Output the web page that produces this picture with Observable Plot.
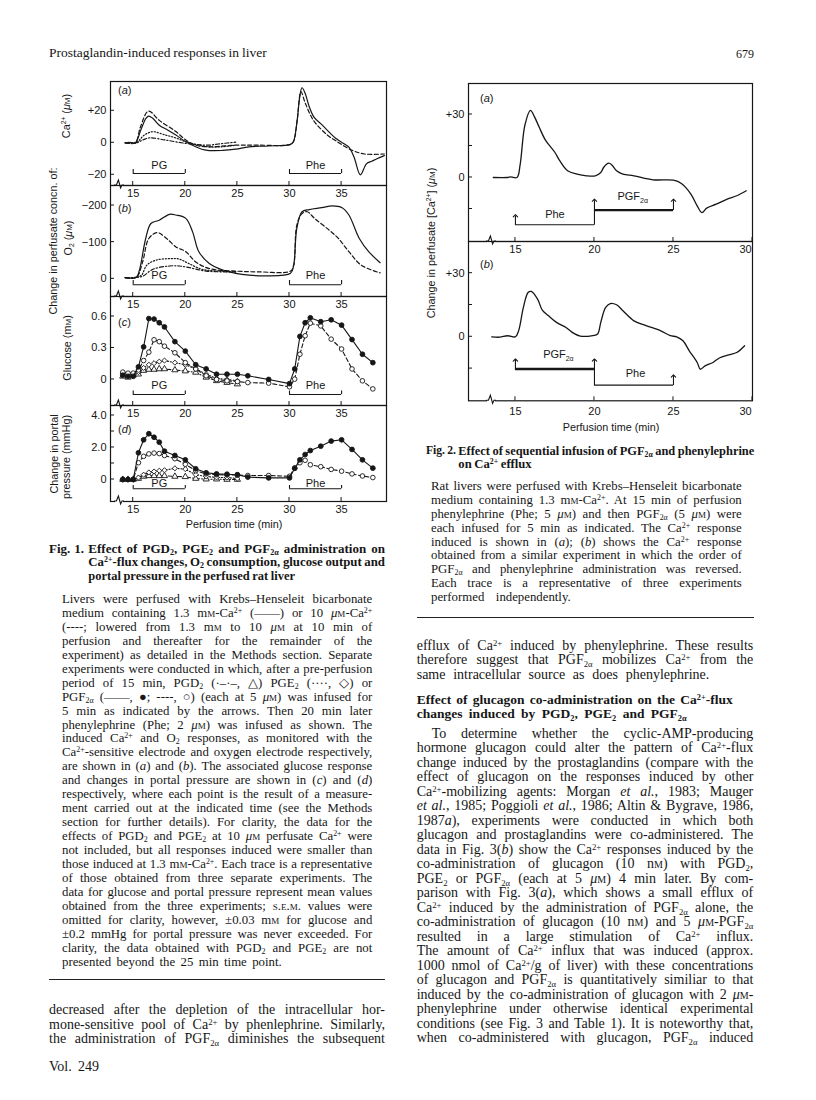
<!DOCTYPE html>
<html lang="en">
<head>
<meta charset="utf-8">
<title>Prostaglandin-induced responses in liver</title>
<script src="https://cdn.jsdelivr.net/npm/d3@7"></script>
<script src="https://cdn.jsdelivr.net/npm/@observablehq/plot@0.6"></script>
<style>
  html, body { margin: 0; padding: 0; background: #fff; }
  body { position: relative; width: 816px; height: 1100px; overflow: hidden; color: #161616;
         font-family: "Liberation Serif", "Times New Roman", Times, serif; }
  .ln { position: absolute; white-space: nowrap; }
  .b { font-weight: bold; }
  .sc { font-variant: small-caps; }
  sup, sub { font-size: 0.62em; line-height: 0; }
  sup { vertical-align: 0.48em; }
  sub { vertical-align: -0.3em; }
  .lab { position: absolute; white-space: nowrap; font-family: "Liberation Sans", Arial, Helvetica, sans-serif;
         font-size: 10.8px; line-height: 13px; }
  .rot { transform: translate(-50%, -50%) rotate(-90deg); }
  .ctr { transform: translate(-50%, -50%); }
  .rule { position: absolute; height: 0; border-top: 1.3px solid #222; }
</style>
</head>
<body>
<script>
// ------------------------------------------------------------------ data
const INK = "#161616";
const SANS = '"Liberation Sans", Arial, Helvetica, sans-serif';

// Fig. 1 — x ticks and infusion windows (min)
const fig1Ticks = [15, 20, 25, 30, 35];
const pgWindow = [15, 20];
const pheWindow = [30, 35];

// Fig. 1(a) Ca2+ traces [time (min), change in Ca2+ (µM)]
const caPGF = [[14.23,0],[14.6,0.3],[15.19,0],[15.73,8],[16.2,15],[16.47,16.7],[16.85,15.5],[17.5,11],[18.3,8],[19.1,4.8],[20.05,0.6],[21.0,-2.5],[21.96,-4.6],[23.56,-4.8],[24.84,-4],[26.1,-2.5],[28.0,-2],[30.1,-1],[30.37,0.6],[30.7,12],[30.97,28],[31.2,34.4],[31.5,31],[31.87,23],[32.35,16],[33.15,11],[34.4,3],[35.2,-0.5],[35.7,-2.7],[36.2,-9],[36.8,-20],[37.4,-13],[37.9,-11.5],[38.4,-10],[39.1,-8]];
const caPGF10 = [[14.23,0],[15.19,0],[15.7,10],[16.47,19.8],[17.5,14],[19.1,7],[20.05,1.7],[21,-1.5],[22.2,-2.5],[24.84,-1.5],[27,-1.5],[30.1,-1],[30.4,1],[30.75,15],[31.1,32],[31.5,25],[32.3,14],[33.6,5],[34.5,1],[35.9,-4.4],[37.2,-7],[39.1,-7]];
const caPGE = [[14.23,0],[15.3,0],[16,4.5],[16.85,6.9],[18.1,4.8],[19.1,3],[20.05,0.6],[21,-1],[22.2,-2.5],[23.5,-2.5],[24.84,-1.5]];
const caPGD = [[14.23,0],[15.3,0],[16,2],[16.6,3.1],[18.1,1.7],[20.05,-0.4],[21,-1],[22.2,-1.5],[23.5,-0.5],[24.84,0.4]];

// Fig. 1(b) O2 traces [time (min), change in O2 (µM)]
const o2PGF = [[14.23,-3],[15.3,-4],[15.6,-24],[16.2,-110],[16.7,-151],[17.5,-160],[18.5,-176],[19.1,-174],[20.05,-165],[20.7,-128],[21.3,-74],[22.3,-42],[23.6,-24],[24.84,-15],[26.1,-10],[27.7,-8],[30.1,-15],[30.4,-37],[30.7,-137],[31.2,-183],[31.9,-189],[33.1,-194],[34.1,-199],[35.05,-194],[35.7,-174],[36.7,-110],[37.6,-74],[38.7,-44]];
const o2PGF10 = [[14.23,-3],[15.3,-4],[15.9,-46],[16.5,-110],[17.3,-126],[18.2,-110],[19.1,-87],[20.05,-74],[21,-46],[22.3,-28],[24.84,-21],[27,-19],[30.1,-21],[30.4,-37],[30.7,-146],[31.2,-178],[31.7,-183],[32.4,-165],[33.8,-133],[34.7,-110],[35.7,-74],[36.9,-37],[38.7,-16]];
const o2PGE = [[14.23,-3],[15.3,-4],[15.8,-10],[16.3,-37],[17.2,-51],[18.5,-55],[19.4,-54],[20.3,-42],[21.6,-26],[23.2,-21],[24.84,-19]];
const o2PGD = [[14.23,-3],[15.3,-4],[15.9,-7],[16.9,-26],[18.5,-35],[19.4,-35],[20.3,-31],[22,-21],[24.84,-19]];

// Fig. 1(c,d) sampling times (min)
const sampleTimes = [14,14.5,15,15.5,16,16.5,17,17.5,18,19,20,21,22,23,24,25,26,28,30,30.5,31,31.5,32,33,34,35,36,37,38];
const pgTimes = [14,14.5,15,15.5,16,16.5,17,17.5,18,19,20,21,22,23,24,25];

// Fig. 1(c) glucose (mM)
const gluPGF = [0.04,0.03,0.03,0.12,0.31,0.58,0.575,0.54,0.5,0.36,0.27,0.14,0.1,0.05,0.05,0.05,0.035,0,-0.04,0.1,0.41,0.54,0.587,0.55,0.568,0.517,0.38,0.24,0.16];
const gluPGF10 = [0.07,0.06,0.06,0.09,0.18,0.26,0.378,0.36,0.317,0.254,0.16,0.1,0.035,0,-0.013,-0.02,-0.03,-0.035,-0.07,0.003,0.24,0.416,0.536,0.51,0.384,0.29,0.1,-0.013,-0.09];
const gluPGE = [0.06,0.05,0.05,0.07,0.11,0.14,0.155,0.17,0.18,0.16,0.14,0.1,0.05,0.01,0,-0.013];
const gluPGD = [0.03,0.02,0.04,0.05,0.085,0.095,0.095,0.1,0.1,0.09,0.08,0.067,0.02,-0.013,-0.03,-0.044];

// Fig. 1(d) portal pressure (mmHg)
const ppPGF = [0,0,0,1.67,2.48,2.86,2.64,2.33,1.77,1.5,1.23,0.67,0.42,0.35,0.33,0.3,0.15,0.1,0.1,0.7,1.23,1.56,1.81,2.08,2.4,2.48,1.88,1.23,0.71];
const ppPGF10 = [0,0,0,1.05,1.45,1.6,1.65,1.62,1.5,1.3,0.95,0.55,0.35,0.3,0.28,0.28,0.25,0.25,0.2,0.72,1.05,1.2,0.92,0.8,0.63,0.52,0.35,0.22,0.12];
const ppPGE = [0,0,0,0.12,0.3,0.44,0.5,0.55,0.58,0.7,0.65,0.3,0.19,0.13,0.12,0.06];
const ppPGD = [0,0,0,0.06,0.19,0.23,0.23,0.23,0.23,0.19,0.17,0.06,0.02,0.02,0,0];

// Fig. 2 — ticks, windows and Ca2+ traces [time (min), µM]
const fig2Ticks = [15, 20, 25, 30];
const firstWindow = [15, 20];
const secondWindow = [20, 25];
const fig2a = [[13.6,0],[14.5,0],[14.7,0.3],[15.1,0],[15.3,6.3],[15.6,25],[15.95,32],[16.2,29],[16.5,24],[16.9,17.8],[17.5,11.9],[17.8,8],[18.3,3.2],[18.9,1.6],[19.5,0.8],[20.05,0.8],[20.4,2.4],[20.6,5],[20.9,6.8],[21.1,6],[21.4,3.2],[21.8,1.6],[22.5,0.8],[23.7,-1.1],[25,-1.3],[25.5,-2.9],[26.1,-7.9],[26.5,-13.5],[26.8,-16.7],[27.1,-14.6],[27.7,-12.7],[28.4,-10.3],[29,-8.7],[29.6,-6.3]];
const fig2b = [[13.5,0],[14.0,-0.2],[14.5,0.5],[15,0],[15.2,2.8],[15.5,13.8],[15.8,20.9],[16,21.4],[16.4,17.8],[16.7,12.6],[17.1,9.9],[17.6,6.8],[18.2,4.4],[18.7,1.6],[19.1,0.3],[19.9,0.6],[20.2,1.3],[20.4,6.8],[20.7,13.8],[21,15.7],[21.4,15.1],[21.8,12.3],[22.5,7.5],[23.3,5.2],[24.2,2.8],[24.8,0.5],[25.2,0],[25.6,-1.9],[26,-6.6],[26.5,-12.1],[26.7,-15.3],[27,-13.7],[27.5,-12.1],[27.9,-10],[28.5,-8.5],[29,-7.4],[29.5,-4.2]];

// ------------------------------------------------------------------ helpers
const signed = d => d > 0 ? "+" + d : d < 0 ? "\u2212" + (-d) : "0";
const oneDec = d => d === 0 ? "0" : d.toFixed(1);

const solid = {stroke: INK, strokeWidth: 1.2, fill: "none"};
const dashed = {...solid, strokeDasharray: "4,2.5"};
const dotted = {...solid, strokeDasharray: "1.2,1.8"};
const dashDot = {...solid, strokeDasharray: "4,2,1.2,2"};

const trace = (data, style) => Plot.line(data, {x: d => d[0], y: d => d[1], curve: "catmull-rom", ...style});
const series = (times, vals) => times.map((t, i) => ({t, v: vals[i]}));
function pointSeries(times, vals, lineStyle, dotStyle) {
  const data = series(times, vals);
  return [
    Plot.line(data, {x: "t", y: "v", ...lineStyle, strokeWidth: 1.1}),
    Plot.dot(data, {x: "t", y: "v", stroke: INK, strokeWidth: 0.9, ...dotStyle})
  ];
}

function tickMarks(yVals, xVals, len = 4) {
  return (index, scales, values, dims) => {
    const g = d3.create("svg:g").attr("stroke", INK).attr("stroke-width", 1);
    const xl = dims.marginLeft, yb = dims.height - dims.marginBottom;
    for (const v of yVals) {
      const y = scales.y(v);
      g.append("line").attr("x1", xl).attr("x2", xl + len).attr("y1", y).attr("y2", y);
    }
    for (const v of xVals) {
      const x = scales.x(v);
      g.append("line").attr("x1", x).attr("x2", x).attr("y1", yb).attr("y2", yb - len);
    }
    return g.node();
  };
}

function axisBreak(offset) {
  return (index, scales, values, dims) => {
    const x = dims.marginLeft + offset, y = dims.height - dims.marginBottom;
    const g = d3.create("svg:g");
    g.append("rect").attr("x", x - 4).attr("y", y - 2).attr("width", 8).attr("height", 4).attr("fill", "white");
    g.append("path")
      .attr("d", `M${x - 5},${y} H${x - 2.6} L${x - 0.6},${y - 5} L${x + 1.6},${y + 3} L${x + 3},${y} H${x + 5}`)
      .attr("fill", "none").attr("stroke", INK).attr("stroke-width", 1.1);
    return g.node();
  };
}

function tag(letter, dx, dy) {
  return (index, scales, values, dims) => {
    const t = d3.create("svg:text").attr("x", dims.marginLeft + dx).attr("y", dims.marginTop + dy)
      .attr("dy", "0.35em").attr("text-anchor", "start").attr("fill", INK).attr("font-size", 11);
    t.append("tspan").text("(");
    t.append("tspan").attr("font-style", "italic").text(letter);
    t.append("tspan").text(")");
    return t.node();
  };
}

function subLabel(main, sub, t, v) {
  return (index, scales) => {
    const el = d3.create("svg:text").attr("x", scales.x(t)).attr("y", scales.y(v))
      .attr("dy", "0.35em").attr("text-anchor", "middle").attr("fill", INK).attr("font-size", 11);
    el.append("tspan").text(main);
    el.append("tspan").attr("font-size", 7).attr("dy", "0.4em").text(sub);
    return el.node();
  };
}

// bracket for Fig. 1: [line level, tick top, label level]
function bracket1([x1, x2], [yLine, yTick, yText], label) {
  return [
    Plot.ruleY([yLine], {x1: () => x1, x2: () => x2, stroke: INK, strokeWidth: 1.1}),
    Plot.ruleX([x1, x2], {y1: () => yLine, y2: () => yTick, stroke: INK, strokeWidth: 1.1}),
    Plot.text([label], {x: () => (x1 + x2) / 2, y: () => yText, text: d => d, fill: INK, fontSize: 11})
  ];
}

function panel(cfg) {
  const mTop = 2, mBottom = 24;
  const ticks = cfg.xTicks;
  const inner = cfg.lastDx ? ticks.slice(0, -1) : ticks;
  const axes = [Plot.axisX({ticks: inner, tickSize: 0, tickPadding: cfg.xPad, tickFormat: d => String(d), label: null})];
  if (cfg.lastDx) axes.push(Plot.axisX({ticks: ticks.slice(-1), tickSize: 0, tickPadding: cfg.xPad, dx: cfg.lastDx, tickFormat: d => String(d), label: null}));
  const svg = Plot.plot({
    width: cfg.width,
    height: cfg.bottom - cfg.top + mTop + mBottom,
    marginLeft: cfg.mLeft, marginRight: cfg.mRight, marginTop: mTop, marginBottom: mBottom,
    x: {domain: cfg.xDomain},
    y: {domain: cfg.yDomain},
    style: {background: "transparent", overflow: "visible", fontFamily: SANS, fontSize: "11px", color: INK},
    marks: [
      ...cfg.marks,
      Plot.frame({stroke: INK, strokeWidth: 1.2}),
      tickMarks(cfg.yTickMarks, cfg.xTicks),
      axisBreak(cfg.breakAt),
      ...axes,
      Plot.axisY({ticks: cfg.yTicks, tickSize: 0, tickPadding: 4, tickFormat: cfg.yFmt, label: null})
    ]
  });
  Object.assign(svg.style, {position: "absolute", left: cfg.left + "px", top: (cfg.top - mTop) + "px"});
  document.body.appendChild(svg);
}

// ------------------------------------------------------------------ Fig. 1
const F1 = {left: 70, width: 330, mLeft: 40, mRight: 14, xDomain: [12.82, 39.31], xTicks: fig1Ticks, breakAt: 9, xPad: 4};

panel({...F1, top: 81, bottom: 185, yDomain: [-26.7, 38.3], yTicks: [20, 0, -20], yTickMarks: [20, 0, -20], yFmt: signed,
  marks: [
    trace(caPGD, dashDot), trace(caPGE, dotted), trace(caPGF10, dashed), trace(caPGF, solid),
    ...bracket1(pgWindow, [-19.2, -16.7, -14.2], "PG"),
    ...bracket1(pheWindow, [-19.2, -16.7, -14.2], "Phe"),
    tag("a", 8, 9)
  ]});

panel({...F1, top: 185, bottom: 296, yDomain: [48.3, -254.6], yTicks: [-200, -100, 0], yTickMarks: [-200, -100, 0], yFmt: signed,
  marks: [
    trace(o2PGD, dashDot), trace(o2PGE, dotted), trace(o2PGF10, dashed), trace(o2PGF, solid),
    ...bracket1(pgWindow, [16.4, 4.6, -9], "PG"),
    ...bracket1(pheWindow, [16.4, 4.6, -9], "Phe"),
    tag("b", 8, 23)
  ]});

panel({...F1, top: 296, bottom: 405, yDomain: [-0.248, 0.79], yTicks: [0.6, 0.3, 0], yTickMarks: [0.6, 0.3, 0], yFmt: oneDec,
  marks: [
    ...pointSeries(pgTimes, gluPGD, dashDot, {symbol: "triangle", r: 2.3, fill: "white"}),
    ...pointSeries(pgTimes, gluPGE, dotted, {symbol: "diamond2", r: 2.3, fill: "white"}),
    ...pointSeries(sampleTimes, gluPGF10, dashed, {symbol: "circle", r: 2.3, fill: "white"}),
    ...pointSeries(sampleTimes, gluPGF, solid, {symbol: "circle", r: 2.4, fill: INK}),
    ...bracket1(pgWindow, [-0.143, -0.11, -0.062], "PG"),
    ...bracket1(pheWindow, [-0.143, -0.11, -0.062], "Phe"),
    tag("c", 8, 26)
  ]});

panel({...F1, top: 405, bottom: 501, yDomain: [-1.375, 4.625], yTicks: [4, 2, 0], yTickMarks: [4, 3, 2, 1, 0], yFmt: oneDec,
  marks: [
    ...pointSeries(pgTimes, ppPGD, dashDot, {symbol: "triangle", r: 2.3, fill: "white"}),
    ...pointSeries(pgTimes, ppPGE, dotted, {symbol: "diamond2", r: 2.3, fill: "white"}),
    ...pointSeries(sampleTimes, ppPGF10, dashed, {symbol: "circle", r: 2.3, fill: "white"}),
    ...pointSeries(sampleTimes, ppPGF, solid, {symbol: "circle", r: 2.4, fill: INK}),
    ...bracket1(pgWindow, [-0.58, -0.375, -0.27], "PG"),
    ...bracket1(pheWindow, [-0.58, -0.375, -0.27], "Phe"),
    tag("d", 8, 24)
  ]});

// ------------------------------------------------------------------ Fig. 2
const F2 = {left: 420, width: 346, mLeft: 48, mRight: 14, xDomain: [12.03, 30], xTicks: fig2Ticks, breakAt: 23, lastDx: -7};

function bracket2([x1, x2], yLine, thick) {
  return Plot.ruleY([yLine], {x1: () => x1, x2: () => x2, stroke: INK, strokeWidth: thick ? 2.3 : 1.1});
}
function arrows2(ticks) {
  return Plot.link(ticks, {x1: d => d.t, x2: d => d.t, y1: d => d.from, y2: d => d.to,
    stroke: INK, strokeWidth: 1.1, markerEnd: "arrow"});
}

panel({...F2, top: 82.7, bottom: 240.7, yDomain: [-30.48, 44.76], yTicks: [30, 0], yTickMarks: [30, 15, 0, -15], yFmt: signed, xPad: 3.6,
  marks: [
    trace(fig2a, {...solid, strokeWidth: 1.3}),
    bracket2(firstWindow, -22.5, false),
    bracket2(secondWindow, -15.5, true),
    arrows2([{t: firstWindow[0], from: -22.5, to: -18.2}, {t: firstWindow[1], from: -22.5, to: -10.8}, {t: secondWindow[1], from: -15.5, to: -10.8}]),
    Plot.text(["Phe"], {x: () => 17.5, y: () => -17.6, text: d => d, fill: INK, fontSize: 11}),
    subLabel("PGF", "2\u03b1", 22.45, -9.3),
    tag("a", 12, 15.6)
  ]});

panel({...F2, top: 240.7, bottom: 400, yDomain: [-30.19, 44.95], yTicks: [30, 0], yTickMarks: [30, 15, 0, -15], yFmt: signed, xPad: 6,
  marks: [
    trace(fig2b, {...solid, strokeWidth: 1.3}),
    bracket2(firstWindow, -15.2, true),
    bracket2(secondWindow, -22.8, false),
    arrows2([{t: firstWindow[0], from: -15.2, to: -11}, {t: firstWindow[1], from: -22.8, to: -11}, {t: secondWindow[1], from: -22.8, to: -18.5}]),
    subLabel("PGF", "2\u03b1", 17.75, -8.6),
    Plot.text(["Phe"], {x: () => 22.6, y: () => -17.3, text: d => d, fill: INK, fontSize: 11}),
    tag("b", 12, 23.6)
  ]});

// ------------------------------------------------------------------ text
const CA = 'Ca<sup>2+</sup>';
const MM = 'm<span class="sc">m</span>';
const UM = '<i>\u03bc</i><span class="sc">m</span>';
const NM = 'n<span class="sc">m</span>';
const PGD = 'PGD<sub>2</sub>', PGE = 'PGE<sub>2</sub>', PGF = 'PGF<sub>2\u03b1</sub>', O2 = 'O<sub>2</sub>';

function setSize(item, size) {
  const {el, base} = item;
  const L = Math.round(size * 1.25);
  el.style.fontSize = size + "px";
  el.style.lineHeight = L + "px";
  el.style.top = (base - ((L - 1.107 * size) / 2 + 0.891 * size)) + "px";
}

// stretch a line to its measured width with word spacing; an overlong line gets a smaller font first
function fitLine(item) {
  const {el, w: target} = item;
  el.style.wordSpacing = "0px"; el.style.letterSpacing = "0px";
  setSize(item, item.size);
  const spaces = (el.textContent.match(/ /g) || []).length;
  let nat = el.getBoundingClientRect().width;
  const tight = target + spaces * 0.6;
  if (nat > tight) {
    const s = item.size * tight / nat;
    setSize(item, s);
    nat = el.getBoundingClientRect().width;
  }
  let diff = target - nat;
  if (spaces > 0) {
    const ws = Math.max(-0.8, Math.min(14, diff / spaces));
    el.style.wordSpacing = ws + "px";
    diff -= ws * spaces;
  }
  if (Math.abs(diff) > 0.5) el.style.letterSpacing = (diff / el.textContent.length) + "px";
}

const placed = [];
function place(html, x, base, size, w, bold) {
  const el = document.createElement("div");
  el.className = "ln" + (bold ? " b" : "");
  el.innerHTML = html;
  el.style.left = x + "px";
  document.body.appendChild(el);
  const item = {el, base, size, w};
  setSize(item, size);
  if (w) placed.push(item);
}
function para(lines, x, base0, lh, size, bold) {
  lines.forEach(([html, w, indent = 0], i) => place(html, x + indent, base0 + i * lh, size, w, bold));
}
function label(html, cx, cy, cls) {
  const el = document.createElement("div");
  el.className = "lab " + cls;
  el.innerHTML = html;
  el.style.left = cx + "px"; el.style.top = cy + "px";
  document.body.appendChild(el);
}
function rule(x1, x2, y) {
  const el = document.createElement("div");
  el.className = "rule";
  Object.assign(el.style, {left: x1 + "px", width: (x2 - x1) + "px", top: y + "px"});
  document.body.appendChild(el);
}

// running heads
place("Prostaglandin-induced responses in liver", 49, 57.3, 14, 217.7);
place("679", 736, 58.3, 14, 18);
place("Vol. 249", 49, 1071.7, 14, 50);

// axis titles
label("Change in perfusate concn. of:", 53, 241, "rot");
label(`${CA} (${UM})`, 66, 116, "rot");
label(`${O2} (${UM})`, 68, 238, "rot");
label(`Glucose (${MM})`, 67, 348, "rot");
label("Change in portal", 54, 454, "rot");
label("pressure (mmHg)", 66, 457, "rot");
label("Perfusion time (min)", 234, 524, "ctr");
label(`Change in perfusate [${CA}] (${UM})`, 431, 243, "rot");
label("Perfusion time (min)", 611, 426.7, "ctr");

// Fig. 1 legend
place("Fig. 1.", 49, 553.3, 13, 35, true);
para([
  [`Effect of ${PGD}, ${PGE} and ${PGF} administration on`, 296.7],
  [`${CA}-flux changes, ${O2} consumption, glucose output and`, 296.7],
  ["portal pressure in the perfused rat liver", 206.7]
], 88.3, 553.3, 13.4, 13, true);

const W1 = 310.3;
para([
  ["Livers were perfused with Krebs\u2013Henseleit bicarbonate", W1],
  [`medium containing 1.3 ${MM}-${CA} (\u2014\u2014) or 10 ${UM}-${CA}`, W1],
  [`(----; lowered from 1.3 ${MM} to 10 ${UM} at 10 min of`, W1],
  ["perfusion and thereafter for the remainder of the", W1],
  ["experiment) as detailed in the Methods section. Separate", W1],
  ["experiments were conducted in which, after a pre-perfusion", W1],
  [`period of 15 min, ${PGD} (\u00b7\u2013\u00b7\u2013, \u25b3) ${PGE} (\u00b7\u00b7\u00b7\u00b7, \u25c7) or`, W1],
  [`${PGF} (\u2014\u2014, \u25cf; ----, \u25cb) (each at 5 ${UM}) was infused for`, W1],
  ["5 min as indicated by the arrows. Then 20 min later", W1],
  [`phenylephrine (Phe; 2 ${UM}) was infused as shown. The`, W1],
  [`induced ${CA} and ${O2} responses, as monitored with the`, W1],
  [`${CA}-sensitive electrode and oxygen electrode respectively,`, W1],
  ["are shown in (<i>a</i>) and (<i>b</i>). The associated glucose response", W1],
  ["and changes in portal pressure are shown in (<i>c</i>) and (<i>d</i>)", W1],
  ["respectively, where each point is the result of a measure-", W1],
  ["ment carried out at the indicated time (see the Methods", W1],
  ["section for further details). For clarity, the data for the", W1],
  [`effects of ${PGD} and ${PGE} at 10 ${UM} perfusate ${CA} were`, W1],
  ["not included, but all responses induced were smaller than", W1],
  [`those induced at 1.3 ${MM}-${CA}. Each trace is a representative`, W1],
  ["of those obtained from three separate experiments. The", W1],
  ["data for glucose and portal pressure represent mean values", W1],
  [`obtained from the three experiments; <span class="sc">s.e.m.</span> values were`, W1],
  [`omitted for clarity, however, \u00b10.03 ${MM} for glucose and`, W1],
  ["\u00b10.2 mmHg for portal pressure was never exceeded. For", W1],
  [`clarity, the data obtained with ${PGD} and ${PGE} are not`, W1],
  ["presented beyond the 25 min time point.", 219.7]
], 62, 603.3, 13.95, 12.8, false);
rule(49, 385, 979);

para([
  ["decreased after the depletion of the intracellular hor-", 336],
  [`mone-sensitive pool of ${CA} by phenlephrine. Similarly,`, 336],
  [`the administration of ${PGF} diminishes the subsequent`, 336]
], 49, 1015, 14.3, 14, false);

// Fig. 2 legend
place("Fig. 2.", 426, 455, 12.5, 30, true);
para([
  [`Effect of sequential infusion of ${PGF} and phenylephrine`, 296],
  [`on ${CA} efflux`, 73.4]
], 458.3, 455, 13, 13, true);

const W2 = 310.7;
para([
  ["Rat livers were perfused with Krebs\u2013Henseleit bicarbonate", W2],
  [`medium containing 1.3 ${MM}-${CA}. At 15 min of perfusion`, W2],
  [`phenylephrine (Phe; 5 ${UM}) and then ${PGF} (5 ${UM}) were`, W2],
  [`each infused for 5 min as indicated. The ${CA} response`, W2],
  [`induced is shown in (<i>a</i>); (<i>b</i>) shows the ${CA} response`, W2],
  ["obtained from a similar experiment in which the order of", W2],
  [`${PGF} and phenylephrine administration was reversed.`, W2],
  ["Each trace is a representative of three experiments", W2],
  ["performed independently.", 139.7]
], 431, 490, 13.96, 12.8, false);
rule(416.7, 754, 616.7);

// right-hand column text
const W3 = 336.6;
para([
  [`efflux of ${CA} induced by phenylephrine. These results`, W3],
  [`therefore suggest that ${PGF} mobilizes ${CA} from the`, W3],
  ["same intracellular source as does phenylephrine.", 292.6]
], 416.7, 650.5, 14.5, 14, false);
para([
  [`Effect of glucagon co-administration on the ${CA}-flux`, 316],
  [`changes induced by ${PGD}, ${PGE} and ${PGF}`, 270]
], 416.7, 704, 14.3, 13.5, true);
para([
  ["To determine whether the cyclic-AMP-producing", W3 - 15, 15],
  [`hormone glucagon could alter the pattern of ${CA}-flux`, W3],
  ["change induced by the prostaglandins (compare with the", W3],
  ["effect of glucagon on the responses induced by other", W3],
  [`${CA}-mobilizing agents: Morgan <i>et al.</i>, 1983; Mauger`, W3],
  ["<i>et al.</i>, 1985; Poggioli <i>et al.</i>, 1986; Altin &amp; Bygrave, 1986,", W3],
  ["1987<i>a</i>), experiments were conducted in which both", W3],
  ["glucagon and prostaglandins were co-administered. The", W3],
  [`data in Fig. 3(<i>b</i>) show the ${CA} responses induced by the`, W3],
  [`co-administration of glucagon (10 ${NM}) with ${PGD},`, W3],
  [`${PGE} or ${PGF} (each at 5 ${UM}) 4 min later. By com-`, W3],
  ["parison with Fig. 3(<i>a</i>), which shows a small efflux of", W3],
  [`${CA} induced by the administration of ${PGF} alone, the`, W3],
  [`co-administration of glucagon (10 ${NM}) and 5 ${UM}-${PGF}`, W3],
  [`resulted in a large stimulation of ${CA} influx.`, W3],
  [`The amount of ${CA} influx that was induced (approx.`, W3],
  [`1000 nmol of ${CA}/g of liver) with these concentrations`, W3],
  [`of glucagon and ${PGF} is quantitatively similiar to that`, W3],
  [`induced by the co-administration of glucagon with 2 ${UM}-`, W3],
  ["phenylephrine under otherwise identical experimental", W3],
  ["conditions (see Fig. 3 and Table 1). It is noteworthy that,", W3],
  [`when co-administered with glucagon, ${PGF} induced`, W3]
], 416.7, 738.3, 14.5, 14, false);

function fitAll() { for (const item of placed) fitLine(item); }
fitAll();
if (document.fonts && document.fonts.ready) document.fonts.ready.then(fitAll);
</script>
</body>
</html>
